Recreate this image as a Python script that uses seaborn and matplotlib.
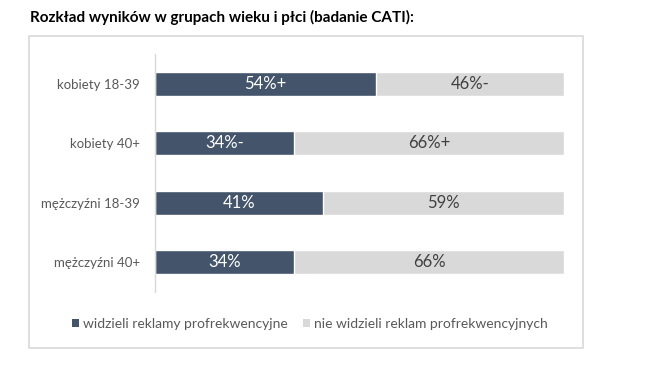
import matplotlib
matplotlib.use("Agg")
import matplotlib.pyplot as plt
import seaborn as sns
import pandas as pd
from matplotlib.patches import Patch, Rectangle

categories = ["kobiety 18-39", "kobiety 40+", "mężczyźni 18-39", "mężczyźni 40+"]
seen = [54, 34, 41, 34]
not_seen = [46, 66, 59, 66]
seen_labels = ["54%+", "34%-", "41%", "34%"]
not_seen_labels = ["46%-", "66%+", "59%", "66%"]
series_names = ["widzieli reklamy profrekwencyjne", "nie widzieli reklam profrekwencyjnych"]
title = "Rozkład wyników w grupach wieku i płci (badanie CATI):"

DARK = "#44546a"
LIGHT = "#d9d9d9"
TXT = "#595959"

sns.set_theme(style="white")
plt.rcParams["font.family"] = ["Lato", "DejaVu Sans"]

df = pd.DataFrame({
    "cat": categories,
    "seen": seen,
    "total": [a + b for a, b in zip(seen, not_seen)],
})

fig = plt.figure(figsize=(6.7, 3.83), dpi=100)
W, H = 670, 383

# outer frame
fig.patches.append(Rectangle((29.5 / W, 1 - 348 / H), (582.5 - 29.5) / W, (348 - 35.5) / H,
                             transform=fig.transFigure, fill=False, edgecolor="#d9d9d9",
                             linewidth=1.2, zorder=0))

ax = fig.add_axes([155 / W, 1 - 292 / H, (564 - 155) / W, (292 - 54) / H])
sns.barplot(data=df, y="cat", x="total", color=LIGHT, width=0.40, saturation=1,
            orient="h", ax=ax)
sns.barplot(data=df, y="cat", x="seen", color=DARK, width=0.40, saturation=1,
            orient="h", ax=ax)

ax.set_xlim(0, 100)
ax.set_ylim(3.5, -0.5)
ax.set_xlabel("")
ax.set_ylabel("")
ax.set_xticks([])
for s in ["top", "right", "bottom"]:
    ax.spines[s].set_visible(False)
ax.spines["left"].set_color("#d9d9d9")
ax.spines["left"].set_linewidth(1.0)
ax.tick_params(axis="y", length=0, pad=11, labelsize=9.5, labelcolor=TXT)

for i, (a, b) in enumerate(zip(seen, not_seen)):
    ax.text(a / 2, i, seen_labels[i], ha="center", va="center", color="white", fontsize=12)
    ax.text(a + b / 2, i, not_seen_labels[i], ha="center", va="center", color="#404040", fontsize=12)

handles = [Patch(facecolor=DARK, edgecolor="none"), Patch(facecolor=LIGHT, edgecolor="none")]
fig.legend(handles, series_names, loc="center", bbox_to_anchor=(310 / W, 1 - 324 / H),
           ncol=2, frameon=False, fontsize=10, labelcolor=TXT,
           handlelength=0.5, handleheight=0.5, handletextpad=0.3, columnspacing=1.1)

fig.text(30 / W, 1 - 17 / H, title, ha="left", va="center", fontsize=11, fontweight="bold",
         color="black")

fig.savefig("out.png", dpi=100, facecolor="white")
